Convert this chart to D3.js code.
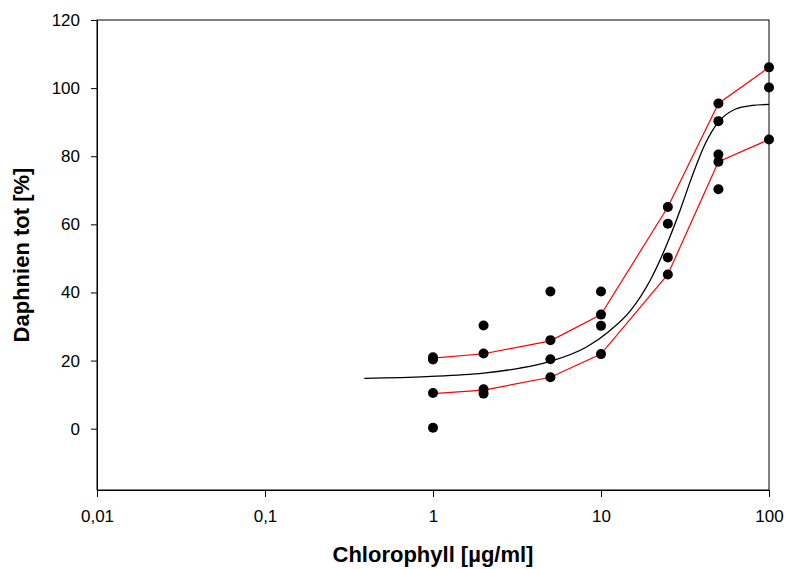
<!DOCTYPE html>
<html>
<head>
<meta charset="utf-8">
<script src="https://cdn.jsdelivr.net/npm/d3@7"></script>
<style>
  body { margin: 0; background: #fff; }
  text { font-family: "Liberation Sans", Arial, sans-serif; }
</style>
</head>
<body>
<div id="chart"></div>
<script>
// measured points
var obsX = [1, 1, 1, 1, 2, 2, 2, 2, 5, 5, 5, 5, 10, 10, 10, 10,
            25, 25, 25, 25, 50, 50, 50, 50, 50, 100, 100, 100];
var obsY = [21.0, 20.3, 10.5, 0.3, 30.3, 22.1, 11.6, 10.3, 40.3, 26.0, 20.4, 15.1,
            40.3, 33.5, 30.2, 21.9, 65.1, 60.2, 50.3, 45.3,
            95.5, 90.3, 80.5, 78.4, 70.3, 106.1, 100.2, 84.9];

// fitted curve
var fitX = [0.39, 0.92, 2, 3.3, 5, 8.2, 11.1, 14.9, 19.6, 24.6, 29.5, 34.5, 41.6, 49.9, 62.8, 78.9, 100];
var fitY = [14.8, 15.3, 16.3, 17.8, 19.8, 24.0, 28.5, 34.5, 43.5, 54.0, 64.0, 73.5, 83.5, 90.0, 93.8, 94.9, 95.2];

// confidence band (red)
var bandX = [1, 2, 5, 10, 25, 50, 100];
var upperY = [20.7, 22.0, 25.8, 33.5, 65.1, 95.5, 106.1];
var lowerY = [10.3, 11.3, 15.1, 21.9, 45.3, 78.4, 84.9];

var xTicks = [0.01, 0.1, 1, 10, 100];
var xTickLabels = ["0,01", "0,1", "1", "10", "100"];
var yTicks = [0, 20, 40, 60, 80, 100, 120];

(function () {
    var width = 787, height = 569;
    var m = { left: 97, right: 769, top: 20, bottom: 490 };

    var svg = d3.select("#chart").append("svg")
        .attr("width", width)
        .attr("height", height);

    var x = d3.scaleLog().domain([0.01, 100]).range([m.left, m.right]);
    var y = d3.scaleLinear().domain([-18, 120]).range([m.bottom, m.top]);

    // frame
    svg.append("rect")
        .attr("x", m.left).attr("y", m.top)
        .attr("width", m.right - m.left).attr("height", m.bottom - m.top)
        .attr("fill", "none").attr("stroke", "#000").attr("stroke-width", 1);

    svg.append("g")
        .attr("transform", "translate(" + m.left + ",0)")
        .call(d3.axisLeft(y).tickValues(yTicks).tickSize(6).tickSizeOuter(0).tickPadding(11));

    svg.append("g")
        .attr("transform", "translate(0," + m.bottom + ")")
        .call(d3.axisBottom(x).tickValues(xTicks).tickSize(7).tickSizeOuter(0).tickPadding(13)
            .tickFormat(function (d, i) { return xTickLabels[i]; }));

    svg.selectAll(".tick text")
        .attr("font-size", 17)
        .attr("font-family", "'Liberation Sans', Arial, sans-serif")
        .attr("fill", "#000");
    svg.selectAll(".tick line").attr("stroke", "#000");
    svg.selectAll(".domain").attr("stroke", "#000");

    var line = d3.line()
        .x(function (d) { return x(d[0]); })
        .y(function (d) { return y(d[1]); });

    // band lines
    [upperY, lowerY].forEach(function (vals) {
        svg.append("path")
            .datum(d3.zip(bandX, vals))
            .attr("d", line)
            .attr("fill", "none").attr("stroke", "#ff0000").attr("stroke-width", 1.2);
    });

    // fit curve
    svg.append("path")
        .datum(d3.zip(fitX, fitY))
        .attr("d", line.curve(d3.curveMonotoneX))
        .attr("fill", "none").attr("stroke", "#000").attr("stroke-width", 1.3);

    // points
    svg.selectAll(".dot")
        .data(d3.zip(obsX, obsY))
        .enter().append("circle")
        .attr("class", "dot")
        .attr("cx", function (d) { return x(d[0]); })
        .attr("cy", function (d) { return y(d[1]); })
        .attr("r", 5)
        .attr("fill", "#000");

    // axis titles
    svg.append("text")
        .attr("x", (m.left + m.right) / 2)
        .attr("y", 562)
        .attr("text-anchor", "middle")
        .attr("font-size", 22)
        .attr("font-weight", "bold")
        .text("Chlorophyll [µg/ml]");

    svg.append("text")
        .attr("transform", "translate(29,255) rotate(-90)")
        .attr("text-anchor", "middle")
        .attr("font-size", 22)
        .attr("font-weight", "bold")
        .text("Daphnien tot [%]");
})();
</script>
</body>
</html>
